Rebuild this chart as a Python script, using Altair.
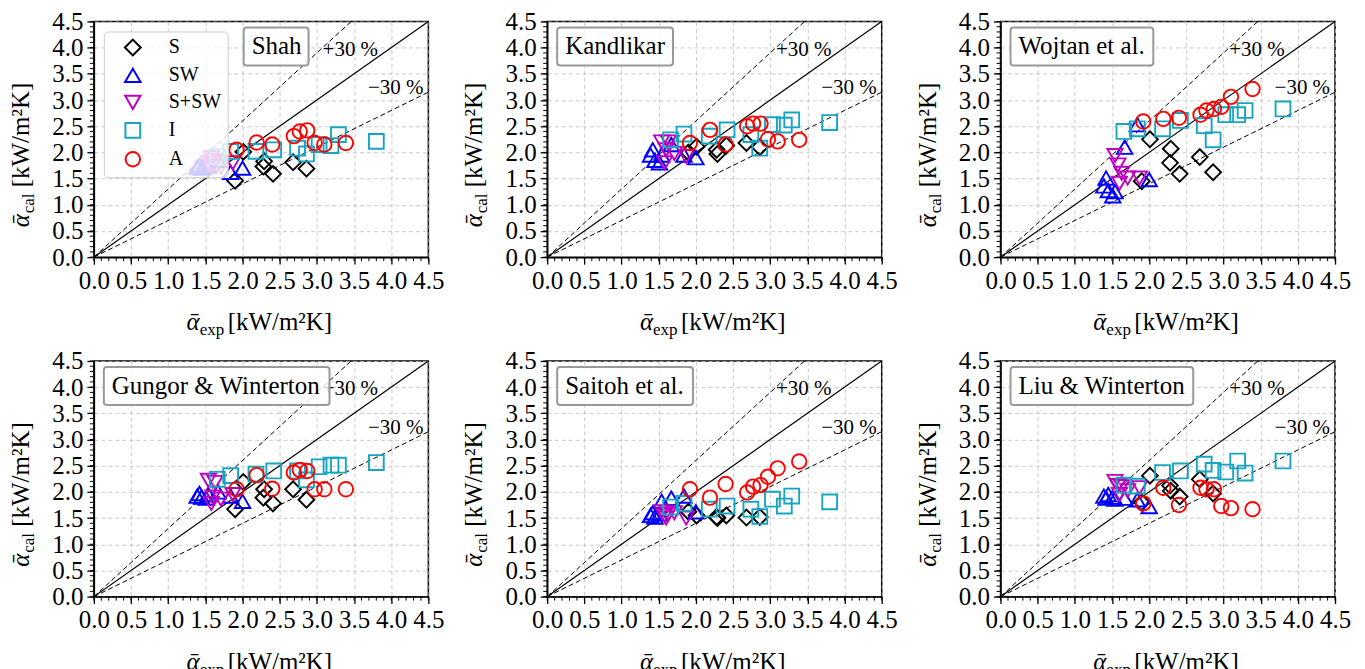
import altair as alt
import pandas as pd

# ---------------- data ----------------
REGIMES = ["S", "SW", "S+SW", "I", "A"]
COLORS = ["#000000", "#0000ff", "#bf00bf", "#17a5c2", "#ff0000"]
SHAPES = ["diamond", "triangle-up", "triangle-down", "square", "circle"]
SIZES = [250, 210, 210, 160, 140]

CORRELATIONS = ["Shah", "Kandlikar", "Wojtan et al.",
                "Gungor & Winterton", "Saitoh et al.", "Liu & Winterton"]

# experimental heat transfer coefficients (same for every panel)
X_S = [1.90, 2.01, 2.28, 2.29, 2.41, 2.68, 2.86]
X_SW = [1.39, 1.42, 1.45, 1.51, 1.54, 1.67, 1.84, 2.00]
X_SSW = [1.54, 1.58, 1.60, 1.63, 1.71, 1.87]
X_I = [1.66, 1.84, 2.18, 2.42, 2.74, 2.86, 3.03, 3.19, 3.29, 3.80]
X_A = [1.92, 2.19, 2.40, 2.69, 2.77, 2.87, 2.97, 3.10, 3.39]

# calculated heat transfer coefficients per correlation
Y_S = {
    "Shah": [1.46, 2.01, 1.73, 1.83, 1.59, 1.81, 1.69],
    "Kandlikar": [2.00, 2.11, 2.05, 1.97, 2.13, 2.18, 2.10],
    "Wojtan et al.": [1.45, 2.25, 1.80, 2.07, 1.59, 1.91, 1.62],
    "Gungor & Winterton": [1.67, 2.19, 1.89, 2.05, 1.78, 2.05, 1.85],
    "Saitoh et al.": [1.62, 1.55, 1.52, 1.50, 1.55, 1.51, 1.52],
    "Liu & Winterton": [1.80, 2.31, 2.12, 2.02, 1.91, 2.24, 1.97],
}
Y_SW = {
    "Shah": [1.72, 1.75, 1.70, 1.78, 1.74, 1.85, 1.62, 1.70],
    "Kandlikar": [1.95, 2.05, 1.85, 1.80, 1.95, 2.15, 1.95, 1.90],
    "Wojtan et al.": [1.36, 1.51, 1.27, 1.17, 1.25, 2.10, 2.53, 1.48],
    "Gungor & Winterton": [1.92, 1.97, 1.90, 1.88, 1.95, 2.00, 1.92, 1.82],
    "Saitoh et al.": [1.55, 1.60, 1.52, 1.58, 1.82, 1.88, 1.92, 1.62],
    "Liu & Winterton": [1.92, 1.88, 1.95, 1.90, 1.86, 1.88, 1.85, 1.72],
}
Y_SSW = {
    "Shah": [1.80, 1.90, 1.75, 1.85, 1.72, 1.80],
    "Kandlikar": [2.20, 1.80, 2.05, 2.20, 1.98, 1.92],
    "Wojtan et al.": [1.94, 1.76, 1.41, 1.60, 1.51, 1.51],
    "Gungor & Winterton": [2.22, 1.78, 1.90, 2.18, 1.86, 1.95],
    "Saitoh et al.": [1.62, 1.55, 1.50, 1.58, 1.60, 1.50],
    "Liu & Winterton": [2.20, 2.12, 1.95, 2.10, 2.02, 2.08],
}
Y_I = {
    "Shah": [1.92, 2.02, 2.02, 2.05, 2.08, 1.97, 2.15, 2.13, 2.34, 2.21],
    "Kandlikar": [2.24, 2.35, 2.31, 2.43, 2.34, 2.08, 2.53, 2.52, 2.62, 2.57],
    "Wojtan et al.": [2.40, 2.45, 2.45, 2.61, 2.51, 2.24, 2.72, 2.72, 2.80, 2.83],
    "Gungor & Winterton": [2.24, 2.31, 2.34, 2.40, 2.40, 2.23, 2.48, 2.51, 2.51, 2.56],
    "Saitoh et al.": [1.71, 1.78, 1.67, 1.73, 1.67, 1.53, 1.86, 1.73, 1.92, 1.81],
    "Liu & Winterton": [2.13, 2.11, 2.37, 2.40, 2.53, 2.41, 2.38, 2.59, 2.36, 2.59],
}
Y_A = {
    "Shah": [2.05, 2.19, 2.15, 2.31, 2.40, 2.42, 2.18, 2.15, 2.18],
    "Kandlikar": [2.18, 2.43, 2.15, 2.50, 2.55, 2.55, 2.25, 2.21, 2.24],
    "Wojtan et al.": [2.59, 2.64, 2.66, 2.72, 2.80, 2.83, 2.87, 3.06, 3.21],
    "Gungor & Winterton": [2.05, 2.32, 2.06, 2.37, 2.42, 2.40, 2.05, 2.05, 2.05],
    "Saitoh et al.": [2.05, 1.89, 2.15, 1.99, 2.10, 2.13, 2.29, 2.45, 2.58],
    "Liu & Winterton": [1.78, 2.08, 1.75, 2.08, 2.05, 2.05, 1.73, 1.69, 1.67],
}

MAJOR_TICKS = [0.0, 0.5, 1.0, 1.5, 2.0, 2.5, 3.0, 3.5, 4.0, 4.5]
MINOR_TICKS = [i / 10 for i in range(46)]
REF_FACTORS = [1.0, 1.3, 0.7]
ANNOT_TEXT = ["+30 %", "\u221230 %"]
ANNOT_X = [3.45, 4.06]
ANNOT_Y = [3.96, 3.22]

# ---------------- style ----------------
W, H = 335, 236
FONT = "Liberation Serif"
TITLE_X = [150, 10, 10, 10, 10, 10]
TITLE_W = [65, 116, 143, 226, 136, 183]

xs = alt.Scale(domain=[0, 4.5], nice=False, zero=False)
ys = alt.Scale(domain=[0, 4.5], nice=False, zero=False)


def make_axis():
    return alt.Axis(values=MAJOR_TICKS, format=".1f", title=None, grid=True,
                    gridDash=[4, 3], gridColor="#bdbdbd", gridWidth=0.8,
                    tickSize=7, tickWidth=1.3, tickColor="black",
                    domainColor="black", domainWidth=1.5,
                    labelFont=FONT, labelFontSize=25, labelColor="black",
                    labelPadding=4, labelFlush=False, labelOverlap=False)


def text_layer(txt, x, y, size, align="left", baseline="alphabetic",
               angle=0, italic=False, color="black"):
    kw = dict(text=txt, font=FONT, fontSize=size, align=align,
              baseline=baseline, color=color)
    if angle:
        kw["angle"] = angle
    if italic:
        kw["fontStyle"] = "italic"
    return alt.Chart(alt.Data(values=[{"k": 1}])).mark_text(**kw).encode(
        x=alt.value(x), y=alt.value(y))


def panel(idx, name):
    rows = []
    for reg, xv, yv in [("S", X_S, Y_S[name]), ("SW", X_SW, Y_SW[name]),
                        ("S+SW", X_SSW, Y_SSW[name]), ("I", X_I, Y_I[name]),
                        ("A", X_A, Y_A[name])]:
        for a, b in zip(xv, yv):
            rows.append({"regime": reg, "exp": a, "cal": b})
    df = pd.DataFrame(rows)

    if idx == 0:
        leg = alt.Legend(orient="none", legendX=10, legendY=10, title=None,
                         direction="vertical",
                         fillColor="rgba(255,255,255,0.8)",
                         strokeColor="#cccccc", cornerRadius=4, padding=6,
                         labelFont=FONT, labelFontSize=20, labelColor="black",
                         symbolStrokeWidth=2, symbolOffset=13, labelOffset=26,
                         rowPadding=5, zindex=1)
    else:
        leg = None

    ref_rows = []
    for k in REF_FACTORS:
        ref_rows.append({"k": k, "lx": 0.0, "ly": 0.0})
        ref_rows.append({"k": k, "lx": 4.5, "ly": 4.5 * k})
    ref = pd.DataFrame(ref_rows)

    X = lambda f: alt.X(f, type="quantitative", scale=xs, axis=make_axis())
    Y = lambda f: alt.Y(f, type="quantitative", scale=ys, axis=make_axis())

    solid = alt.Chart(ref[ref.k == 1.0]).mark_line(
        color="black", strokeWidth=1.2, clip=True).encode(
        x=X("lx"), y=Y("ly"), detail="k:N")
    dashed = alt.Chart(ref[ref.k != 1.0]).mark_line(
        color="black", strokeWidth=1.0, strokeDash=[5, 3], clip=True).encode(
        x=X("lx"), y=Y("ly"), detail="k:N")

    pts = alt.Chart(df).mark_point(filled=False, strokeWidth=1.9,
                                   opacity=1).encode(
        x=X("exp"), y=Y("cal"),
        color=alt.Color("regime:N", scale=alt.Scale(domain=REGIMES, range=COLORS),
                        legend=leg),
        shape=alt.Shape("regime:N", scale=alt.Scale(domain=REGIMES, range=SHAPES),
                        legend=leg),
        size=alt.Size("regime:N", scale=alt.Scale(domain=REGIMES, range=SIZES),
                      legend=leg),
        order=alt.Order("ord:Q"),
    ).transform_calculate(ord="indexof(['S','SW','S+SW','I','A'], datum.regime)")

    ann = alt.Chart(pd.DataFrame({"t": ANNOT_TEXT, "ax": ANNOT_X, "ay": ANNOT_Y})
                    ).mark_text(font=FONT, fontSize=21, color="black",
                                align="center", baseline="middle").encode(
        x=X("ax"), y=Y("ay"), text="t:N")

    bx = TITLE_X[idx]
    box = alt.Chart(alt.Data(values=[{"k": 1}])).mark_rect(
        fill="white", fillOpacity=0.8, stroke="#999999", strokeWidth=2,
        cornerRadius=3).encode(
        x=alt.value(bx), x2=alt.value(bx + TITLE_W[idx]),
        y=alt.value(6), y2=alt.value(44))
    ttl = text_layer(name, bx + 8, 25, 25, baseline="middle")

    minor_df = pd.DataFrame({"v": MINOR_TICKS})
    mx = alt.Chart(minor_df).mark_rule(color="black", strokeWidth=1).encode(
        x=X("v"), y=alt.value(H), y2=alt.value(H + 4))
    my = alt.Chart(minor_df).mark_rule(color="black", strokeWidth=1).encode(
        y=Y("v"), x=alt.value(0), x2=alt.value(-4))

    # x axis title: alpha_exp [kW/m^2K]
    xt1 = text_layer("\u1fb1", 106, H + 73, 25, align="right", italic=True)
    xt2 = text_layer("exp", 106, H + 78, 17)
    xt3 = text_layer("[kW/m\u00b2K]", 134, H + 73, 25)
    # y axis title: alpha_cal [kW/m^2K] rotated
    y0 = 206
    yt1 = text_layer("\u1fb1", -65, y0, 25, align="left", angle=270, italic=True)
    yt2 = text_layer("cal", -60, y0 - 14, 17, align="left", angle=270)
    yt3 = text_layer("[kW/m\u00b2K]", -65, y0 - 40, 25, align="left", angle=270)

    return alt.layer(solid, dashed, pts, ann, box, ttl, mx, my,
                     xt1, xt2, xt3, yt1, yt2, yt3).properties(width=W, height=H)


panels = [panel(i, n) for i, n in enumerate(CORRELATIONS)]

chart = alt.concat(*panels, columns=3, spacing={"row": 104, "column": 119},
                   bounds="flush").resolve_scale(
    color="independent", shape="independent", size="independent"
).resolve_legend(
    color="independent", shape="independent", size="independent"
).configure_view(stroke="black", strokeWidth=1.5).properties(
    padding={"left": 0, "top": 0, "right": 5, "bottom": 0},
    background="white")

chart.save("out.html", embed_options={"renderer": "svg", "actions": False})
